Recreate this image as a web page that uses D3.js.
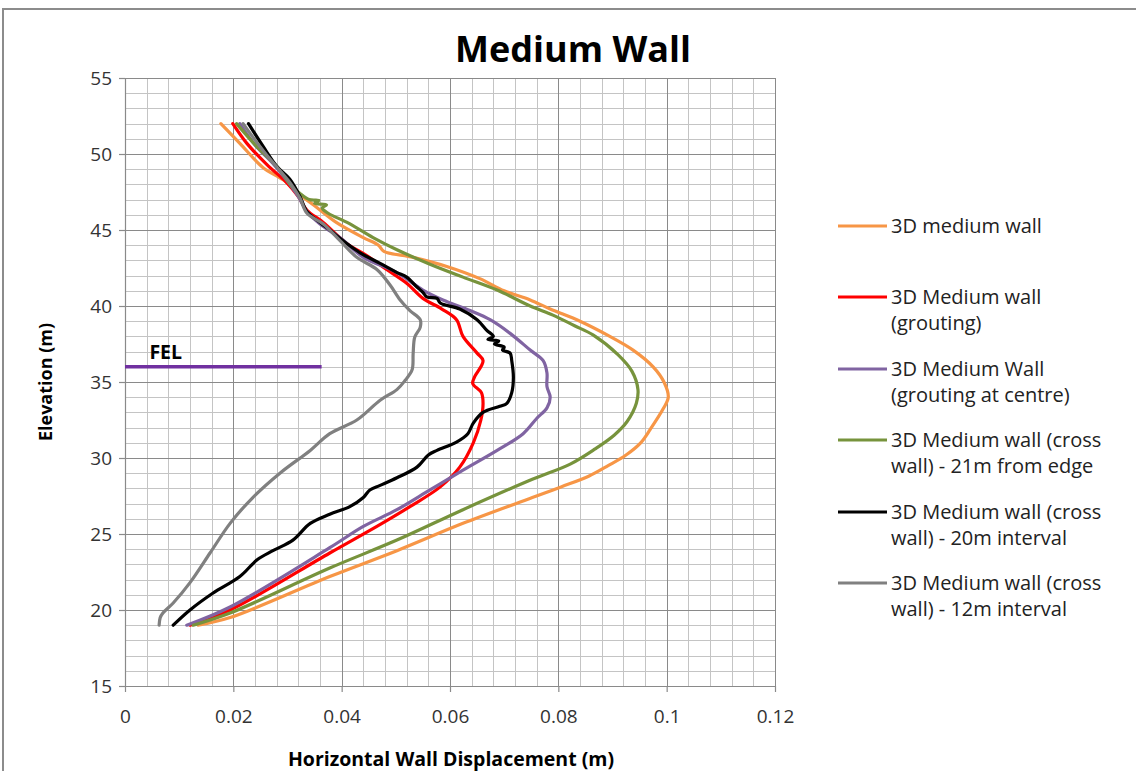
<!DOCTYPE html>
<html>
<head>
<meta charset="utf-8">
<script src="https://cdn.jsdelivr.net/npm/d3@7"></script>
<style>
  html, body { margin: 0; padding: 0; background: #fff; }
  svg { display: block; font-family: "Open Sans", Lato, sans-serif; }
</style>
</head>
<body>
<svg id="chart" width="1136" height="771"></svg>
<script>
// Axis ticks
const xTicks = [0, 0.02, 0.04, 0.06, 0.08, 0.1, 0.12];
const xTickLabels = ["0", "0.02", "0.04", "0.06", "0.08", "0.1", "0.12"];
const yTicks = [15, 20, 25, 30, 35, 40, 45, 50, 55];
const yTickLabels = ["15", "20", "25", "30", "35", "40", "45", "50", "55"];

// Series: [horizontal displacement (m), elevation (m)]
const mediumWall = [
  [0.0177,52],[0.0212,50.7],[0.0255,49.1],[0.0292,48.3],[0.0320,47.4],[0.0350,46.6],
  [0.0390,45.5],[0.0440,44.5],[0.0468,44.0],[0.0478,43.6],[0.0532,43.2],[0.0594,42.6],
  [0.0655,41.8],[0.0700,41.0],[0.0748,40.4],[0.0785,39.8],[0.0840,39.0],[0.0890,38.1],
  [0.0938,37.1],[0.0975,36.0],[0.0995,35.0],[0.1003,34.0],[0.0993,33.2],[0.0970,31.9],
  [0.0952,31.0],[0.0925,30.2],[0.0892,29.5],[0.0856,28.8],[0.0805,28.1],[0.0752,27.4],
  [0.0624,25.7],[0.0502,23.9],[0.0378,22.2],[0.0194,19.5],[0.0135,19.0]
];
const groutingWall = [
  [0.0199,52],[0.0225,50.7],[0.0262,49.3],[0.0299,48.1],[0.0320,47.2],[0.0336,46.3],
  [0.0366,45.5],[0.0410,44.1],[0.0447,43.3],[0.0483,42.4],[0.0520,41.5],[0.0550,40.5],
  [0.0585,39.8],[0.0612,39.1],[0.0624,38.0],[0.0650,36.9],[0.0661,36.4],[0.0645,35.3],
  [0.0642,34.9],[0.0658,34.3],[0.0661,33.6],[0.0657,32.5],[0.0643,31.0],[0.0618,29.4],
  [0.0582,28.1],[0.0526,26.8],[0.0465,25.5],[0.0378,23.75],[0.0194,20.0],[0.0120,19.0]
];
const groutingCentre = [
  [0.0212,52],[0.0240,50.6],[0.0275,49.3],[0.0300,48.2],[0.0320,47.2],[0.0336,46.2],
  [0.0360,45.4],[0.0400,44.4],[0.0440,43.2],[0.0502,42.2],[0.0550,41.05],[0.0587,40.4],
  [0.0637,39.7],[0.0674,39.1],[0.0711,38.2],[0.0748,37.1],[0.0772,36.4],[0.0779,35.6],
  [0.0779,34.7],[0.0785,34.0],[0.0779,33.3],[0.0760,32.6],[0.0735,31.6],[0.0687,30.5],
  [0.0624,29.2],[0.0563,27.9],[0.0502,26.6],[0.0440,25.5],[0.0378,24.1],[0.0194,20.2],
  [0.0114,19.0]
];
const crossWall21m = [
  [0.0206,52],[0.0243,50.5],[0.0280,49.2],[0.0310,47.8],[0.0323,47.4],[0.0340,47.0],
  [0.0358,46.95],[0.0350,46.75],[0.0372,46.65],[0.0364,46.45],[0.0375,46.1],[0.0410,45.5],
  [0.0458,44.5],[0.0502,43.7],[0.0563,42.75],[0.0624,41.9],[0.0687,41.05],[0.0748,40.0],
  [0.0790,39.4],[0.0830,38.7],[0.0864,38.1],[0.0910,36.8],[0.0936,35.7],[0.0947,34.5],
  [0.0944,33.6],[0.0927,32.4],[0.0903,31.5],[0.0868,30.6],[0.0822,29.6],[0.0752,28.6],
  [0.0624,26.6],[0.0502,24.6],[0.0378,22.76],[0.0194,19.8],[0.0126,19.0]
];
const crossWall20m = [
  [0.0228,52],[0.0255,50.5],[0.0280,49.2],[0.0305,48.3],[0.0323,47.2],[0.0336,46.2],
  [0.0360,45.5],[0.0378,45.0],[0.0410,44.1],[0.0434,43.5],[0.0471,42.8],[0.0502,42.2],
  [0.0520,41.9],[0.0539,41.25],[0.0550,40.9],[0.0557,40.6],[0.0576,40.5],[0.0582,40.2],
  [0.0618,39.8],[0.0650,39.1],[0.0668,38.4],[0.0680,38.0],[0.0670,37.8],[0.0690,37.7],
  [0.0682,37.5],[0.0700,37.3],[0.0697,37.1],[0.0711,36.9],[0.0714,36.4],[0.0717,35.3],
  [0.0714,34.3],[0.0705,33.6],[0.0692,33.4],[0.0661,33.0],[0.0643,32.3],[0.0633,31.6],
  [0.0612,31.05],[0.0576,30.5],[0.0560,30.2],[0.0539,29.4],[0.0502,28.7],[0.0471,28.2],
  [0.0452,27.9],[0.0440,27.4],[0.0415,26.8],[0.0378,26.3],[0.0342,25.7],[0.0310,24.6],
  [0.0273,23.9],[0.0244,23.3],[0.0212,22.2],[0.0162,21.1],[0.0120,20.0],[0.0089,19.0]
];
const crossWall12m = [
  [0.0218,52],[0.0249,50.5],[0.0274,49.4],[0.0290,48.75],[0.0305,48.1],[0.0323,47.1],
  [0.0336,46.1],[0.0366,45.4],[0.0397,44.3],[0.0428,43.2],[0.0465,42.4],[0.0489,41.4],
  [0.0508,40.4],[0.0526,39.7],[0.0545,39.1],[0.0545,38.6],[0.0535,37.96],[0.0532,36.9],
  [0.0530,35.8],[0.0517,35.1],[0.0502,34.5],[0.0471,33.8],[0.0428,32.5],[0.0378,31.6],
  [0.0342,30.5],[0.0286,29.0],[0.0236,27.4],[0.0194,25.7],[0.0157,23.75],[0.0120,21.8],
  [0.0089,20.46],[0.0070,19.8],[0.0065,19.5],[0.0063,19.0]
];

// Full excavation level marker
const felLevel = [[0, 36], [0.0363, 36]];

const seriesNames = [
  ["3D medium wall"],
  ["3D Medium wall", "(grouting)"],
  ["3D Medium Wall", "(grouting at centre)"],
  ["3D Medium wall (cross", "wall) -  21m from edge"],
  ["3D Medium wall (cross", "wall) -  20m interval"],
  ["3D Medium wall (cross", "wall) - 12m interval"]
];
const seriesData = [mediumWall, groutingWall, groutingCentre, crossWall21m, crossWall20m, crossWall12m];
const seriesColors = ["#F79646", "#FF0000", "#8064A2", "#77933C", "#000000", "#808080"];

const svg = d3.select("#chart");

// Outer chart frame
svg.append("path")
  .attr("d", "M3,771 L3,9 L1136,9")
  .attr("fill", "none").attr("stroke", "#8c8c8c").attr("stroke-width", 2);

const plotL = 125, plotR = 775, plotT = 78, plotB = 686;
const x = d3.scaleLinear().domain([0, 0.12]).range([plotL, plotR]);
const y = d3.scaleLinear().domain([15, 55]).range([plotB, plotT]);

// Gridlines: minor then major
const grid = svg.append("g").attr("shape-rendering", "crispEdges");
const xMinor = d3.range(0, 0.1201, 0.004);
const yMinor = d3.range(15, 55.01, 1);
grid.selectAll(".vx").data(xMinor).join("line")
  .attr("x1", d => Math.round(x(d)) + 0.5).attr("x2", d => Math.round(x(d)) + 0.5)
  .attr("y1", plotT).attr("y2", plotB)
  .attr("stroke", "#c4c4c4").attr("stroke-width", 1.5);
grid.selectAll(".hy").data(yMinor).join("line")
  .attr("y1", d => Math.round(y(d)) + 0.5).attr("y2", d => Math.round(y(d)) + 0.5)
  .attr("x1", plotL).attr("x2", plotR)
  .attr("stroke", "#c4c4c4").attr("stroke-width", 1.5);
grid.selectAll(".vmaj").data(xTicks).join("line")
  .attr("x1", d => Math.round(x(d)) + 0.5).attr("x2", d => Math.round(x(d)) + 0.5)
  .attr("y1", plotT).attr("y2", plotB)
  .attr("stroke", "#8a8a8a").attr("stroke-width", 1.2);
grid.selectAll(".hmaj").data(yTicks).join("line")
  .attr("y1", d => Math.round(y(d)) + 0.5).attr("y2", d => Math.round(y(d)) + 0.5)
  .attr("x1", plotL).attr("x2", plotR)
  .attr("stroke", "#8a8a8a").attr("stroke-width", 1.2);

// Axes
const xAxis = d3.axisBottom(x).tickValues(xTicks)
  .tickFormat((d, i) => xTickLabels[i]).tickSizeInner(6).tickSizeOuter(0).tickPadding(18);
const yAxis = d3.axisLeft(y).tickValues(yTicks)
  .tickFormat((d, i) => yTickLabels[i]).tickSizeInner(6).tickSizeOuter(0).tickPadding(7);

const gx = svg.append("g").attr("transform", `translate(0,${plotB})`).call(xAxis);
const gy = svg.append("g").attr("transform", `translate(${plotL},0)`).call(yAxis);
[gx, gy].forEach(g => {
  g.select(".domain").attr("stroke", "#8a8a8a").attr("stroke-width", 1.2);
  g.selectAll(".tick line").attr("stroke", "#8a8a8a").attr("stroke-width", 1.2);
  g.selectAll(".tick text").attr("fill", "#333").style("font-size", "19px")
    .style("font-family", "'Open Sans', Lato, sans-serif");
});

// Series lines
const line = d3.line()
  .x(d => x(d[0])).y(d => y(d[1]))
  .curve(d3.curveCatmullRom.alpha(0.5));

const plot = svg.append("g");
seriesData.forEach((data, i) => {
  plot.append("path")
    .datum(data)
    .attr("d", line)
    .attr("fill", "none")
    .attr("stroke", seriesColors[i])
    .attr("stroke-width", 3.2)
    .attr("stroke-linejoin", "round")
    .attr("stroke-linecap", "round");
});

// FEL marker
plot.append("path")
  .datum(felLevel)
  .attr("d", d3.line().x(d => x(d[0])).y(d => y(d[1])))
  .attr("stroke", "#7030A0").attr("stroke-width", 3.5).attr("fill", "none");
svg.append("text")
  .attr("x", x(0.0045)).attr("y", y(36) - 8)
  .attr("font-weight", "bold").attr("font-size", 19.5).attr("fill", "#000")
  .text("FEL");

// Title and axis titles
svg.append("text")
  .attr("x", 573).attr("y", 62).attr("text-anchor", "middle")
  .attr("font-weight", "bold").attr("font-size", 36).attr("fill", "#000")
  .text("Medium Wall");
svg.append("text")
  .attr("transform", `translate(52,${(plotT + plotB) / 2}) rotate(-90)`)
  .attr("text-anchor", "middle")
  .attr("font-weight", "bold").attr("font-size", 18).attr("fill", "#000")
  .text("Elevation (m)");
svg.append("text")
  .attr("x", 451).attr("y", 766).attr("text-anchor", "middle")
  .attr("font-weight", "bold").attr("font-size", 19.5).attr("fill", "#000")
  .text("Horizontal Wall Displacement (m)");

// Legend
const legendRowY = [226, 297, 369, 440, 512, 583];
const legend = svg.append("g");
seriesNames.forEach((lines, i) => {
  const ly = legendRowY[i];
  legend.append("line")
    .attr("x1", 838).attr("x2", 887).attr("y1", ly).attr("y2", ly)
    .attr("stroke", seriesColors[i]).attr("stroke-width", 3.2);
  lines.forEach((t, j) => {
    legend.append("text")
      .attr("x", 891).attr("y", ly + 7 + j * 25.5)
      .attr("font-size", 20).attr("fill", "#222")
      .text(t);
  });
});
</script>
</body>
</html>
